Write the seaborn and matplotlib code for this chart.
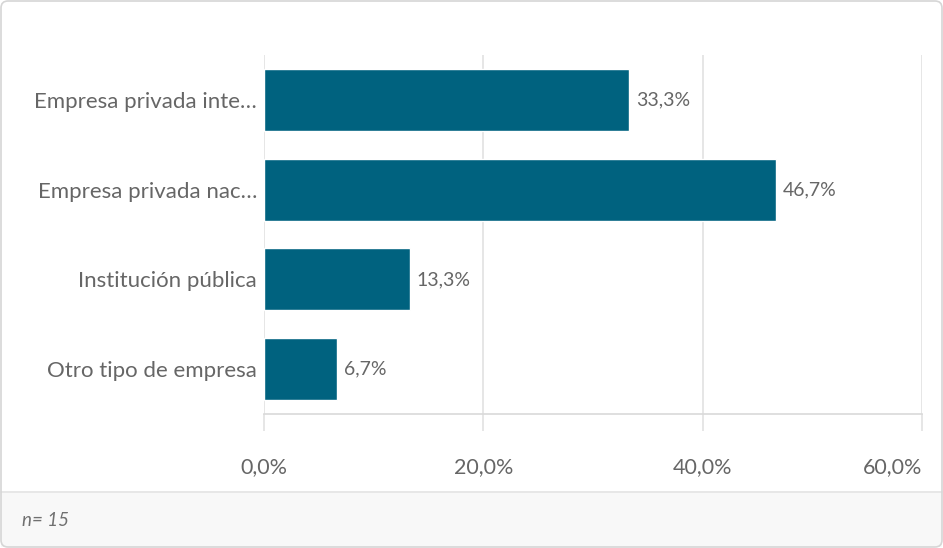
import matplotlib
matplotlib.use("Agg")
import matplotlib.pyplot as plt
import seaborn as sns
import pandas as pd
from matplotlib.patches import Rectangle, FancyBboxPatch
from matplotlib.lines import Line2D
from matplotlib.ticker import FuncFormatter

categories = ["Empresa privada inte…", "Empresa privada nac…", "Institución pública", "Otro tipo de empresa"]
values = [33.3, 46.7, 13.3, 6.7]
x_ticks = [0, 20, 40, 60]
note = "n= 15"

BAR = "#00627f"
TXT = "#666666"
GRID = "#e2e2e2"

sns.set_theme(style="white")
plt.rcParams["font.family"] = ["Lato", "DejaVu Sans"]

df = pd.DataFrame({"cat": categories, "val": values})

W, H = 943, 548
fig = plt.figure(figsize=(W / 100, H / 100), dpi=100)
ax = fig.add_axes([264 / W, 1 - 414 / H, (922 - 264) / W, (414 - 55) / H])

sns.barplot(data=df, y="cat", x="val", orient="h", color=BAR, saturation=1,
            width=0.69, ax=ax, zorder=3)

ax.set_xlim(0, 60)
ax.set_ylim(3.5, -0.5)
ax.set_xticks(x_ticks)
ax.xaxis.set_major_formatter(FuncFormatter(lambda v, p: f"{v:.1f}%".replace(".", ",")))
ax.grid(axis="x", color=GRID, linewidth=1.2, zorder=0)
ax.grid(axis="y", visible=False)
for s in ["top", "right", "left"]:
    ax.spines[s].set_visible(False)
ax.spines["bottom"].set_color("#d9d9d9")
ax.spines["bottom"].set_linewidth(1.2)
ax.set_xlabel("")
ax.set_ylabel("")
ax.tick_params(axis="x", length=12, width=1.2, color=GRID, pad=19,
               labelsize=15.5, labelcolor=TXT, bottom=True)
ax.tick_params(axis="y", length=0, pad=5, labelsize=16, labelcolor=TXT)
lbls = ax.get_xticklabels()
lbls[-1].set_horizontalalignment("right")
lbls[-1].set_x(60)

for i, v in enumerate(values):
    ax.annotate(f"{v:.1f}%".replace(".", ","), xy=(v, i), xytext=(5, 0),
                textcoords="offset points", va="center", ha="left",
                fontsize=14, color=TXT, zorder=4)

# footer band
fig.patches.append(Rectangle((1, 1), W - 2, 548 - 492, transform=None,
                             facecolor="#f8f8f8", edgecolor="none", zorder=0))
fig.lines.append(Line2D([1, W - 1], [548 - 492, 548 - 492], transform=None,
                        color="#e4e4e4", linewidth=1.2))
fig.text(22 / W, (548 - 521) / H, note, fontsize=13.5, style="italic",
         color="#707070", va="center", ha="left")

# outer rounded border
fig.patches.append(FancyBboxPatch((1, 1), W - 2, H - 2,
                                  boxstyle="round,pad=0,rounding_size=7",
                                  transform=None, fill=False,
                                  edgecolor="#d6d6d6", linewidth=1.2, zorder=5))

fig.savefig("out.png", dpi=100)
